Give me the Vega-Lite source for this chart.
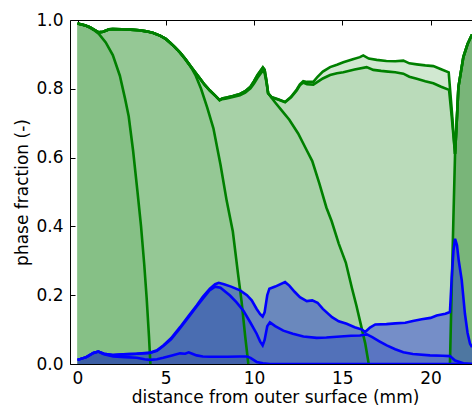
{
"$schema": "https://vega.github.io/schema/vega-lite/v6.json",
"autosize": "none",
"width": 402, "height": 344,
"padding": {"left": 70, "top": 20, "right": 0, "bottom": 51},
"background": "white",
"config": {"view": {"stroke": null}, "font": "DejaVu Sans",
 "axis": {"labelFont": "DejaVu Sans", "labelFontSize": 17, "titleFont": "DejaVu Sans", "titleFontSize": 17, "titleFontWeight": "normal", "labelColor": "black", "titleColor": "black", "domainColor": "black", "tickColor": "black", "grid": false, "tickSize": -5, "domainWidth": 1, "tickWidth": 1, "labelFlush": false}},
"datasets": {"d": [
{"s":"G1","x":0,"y":0.99},{"s":"G1","x":0.4,"y":0.985},{"s":"G1","x":0.7,"y":0.978},{"s":"G1","x":1.0,"y":0.968},{"s":"G1","x":1.2,"y":0.96},{"s":"G1","x":1.6,"y":0.935},{"s":"G1","x":2.0,"y":0.898},{"s":"G1","x":2.4,"y":0.838},{"s":"G1","x":2.7,"y":0.77},{"s":"G1","x":2.9,"y":0.72},{"s":"G1","x":3.15,"y":0.62},{"s":"G1","x":3.4,"y":0.5},{"s":"G1","x":3.6,"y":0.4},{"s":"G1","x":3.78,"y":0.29},{"s":"G1","x":3.92,"y":0.19},{"s":"G1","x":4.05,"y":0.08},{"s":"G1","x":4.13,"y":0},
{"s":"G2","x":0,"y":0.99},{"s":"G2","x":0.4,"y":0.985},{"s":"G2","x":0.7,"y":0.979},{"s":"G2","x":1.0,"y":0.97},{"s":"G2","x":1.2,"y":0.964},{"s":"G2","x":1.45,"y":0.966},{"s":"G2","x":1.8,"y":0.973},{"s":"G2","x":2.0,"y":0.974},{"s":"G2","x":2.5,"y":0.973},{"s":"G2","x":3.0,"y":0.972},{"s":"G2","x":3.5,"y":0.97},{"s":"G2","x":3.9,"y":0.967},{"s":"G2","x":4.3,"y":0.962},{"s":"G2","x":4.7,"y":0.954},{"s":"G2","x":5.0,"y":0.945},{"s":"G2","x":5.25,"y":0.934},{"s":"G2","x":5.5,"y":0.922},{"s":"G2","x":5.8,"y":0.906},{"s":"G2","x":6.1,"y":0.887},{"s":"G2","x":6.4,"y":0.866},{"s":"G2","x":6.7,"y":0.838},{"s":"G2","x":7.0,"y":0.8},{"s":"G2","x":7.35,"y":0.745},{"s":"G2","x":7.7,"y":0.685},{"s":"G2","x":8.1,"y":0.58},{"s":"G2","x":8.45,"y":0.475},{"s":"G2","x":8.8,"y":0.385},{"s":"G2","x":9.1,"y":0.26},{"s":"G2","x":9.3,"y":0.18},{"s":"G2","x":9.5,"y":0.08},{"s":"G2","x":9.68,"y":0},
{"s":"G3","x":0,"y":0.99},{"s":"G3","x":0.4,"y":0.985},{"s":"G3","x":0.7,"y":0.979},{"s":"G3","x":1.0,"y":0.97},{"s":"G3","x":1.2,"y":0.964},{"s":"G3","x":1.45,"y":0.966},{"s":"G3","x":1.8,"y":0.973},{"s":"G3","x":2.0,"y":0.974},{"s":"G3","x":2.5,"y":0.973},{"s":"G3","x":3.0,"y":0.972},{"s":"G3","x":3.5,"y":0.97},{"s":"G3","x":3.9,"y":0.967},{"s":"G3","x":4.3,"y":0.962},{"s":"G3","x":4.7,"y":0.954},{"s":"G3","x":5.0,"y":0.945},{"s":"G3","x":5.25,"y":0.934},{"s":"G3","x":5.5,"y":0.922},{"s":"G3","x":5.8,"y":0.906},{"s":"G3","x":6.1,"y":0.887},{"s":"G3","x":6.4,"y":0.866},{"s":"G3","x":6.7,"y":0.846},{"s":"G3","x":6.95,"y":0.829},{"s":"G3","x":7.2,"y":0.812},{"s":"G3","x":7.5,"y":0.795},{"s":"G3","x":7.8,"y":0.78},{"s":"G3","x":8.05,"y":0.767},{"s":"G3","x":8.2,"y":0.772},{"s":"G3","x":8.45,"y":0.775},{"s":"G3","x":8.8,"y":0.779},{"s":"G3","x":9.2,"y":0.785},{"s":"G3","x":9.5,"y":0.793},{"s":"G3","x":9.8,"y":0.806},{"s":"G3","x":10.0,"y":0.822},{"s":"G3","x":10.2,"y":0.84},{"s":"G3","x":10.4,"y":0.855},{"s":"G3","x":10.5,"y":0.862},{"s":"G3","x":10.6,"y":0.855},{"s":"G3","x":10.7,"y":0.825},{"s":"G3","x":10.8,"y":0.787},{"s":"G3","x":11.2,"y":0.76},{"s":"G3","x":11.6,"y":0.735},{"s":"G3","x":12.0,"y":0.71},{"s":"G3","x":12.5,"y":0.67},{"s":"G3","x":13.0,"y":0.62},{"s":"G3","x":13.3,"y":0.59},{"s":"G3","x":13.7,"y":0.525},{"s":"G3","x":14.1,"y":0.455},{"s":"G3","x":14.4,"y":0.415},{"s":"G3","x":14.8,"y":0.35},{"s":"G3","x":15.2,"y":0.295},{"s":"G3","x":15.55,"y":0.22},{"s":"G3","x":15.8,"y":0.17},{"s":"G3","x":16.0,"y":0.126},{"s":"G3","x":16.3,"y":0.06},{"s":"G3","x":16.5,"y":0},
{"s":"G4","x":0,"y":0.99},{"s":"G4","x":0.4,"y":0.985},{"s":"G4","x":0.7,"y":0.979},{"s":"G4","x":1.0,"y":0.97},{"s":"G4","x":1.2,"y":0.964},{"s":"G4","x":1.45,"y":0.966},{"s":"G4","x":1.8,"y":0.973},{"s":"G4","x":2.0,"y":0.974},{"s":"G4","x":2.5,"y":0.973},{"s":"G4","x":3.0,"y":0.972},{"s":"G4","x":3.5,"y":0.97},{"s":"G4","x":3.9,"y":0.967},{"s":"G4","x":4.3,"y":0.962},{"s":"G4","x":4.7,"y":0.954},{"s":"G4","x":5.0,"y":0.945},{"s":"G4","x":5.25,"y":0.934},{"s":"G4","x":5.5,"y":0.922},{"s":"G4","x":5.8,"y":0.906},{"s":"G4","x":6.1,"y":0.887},{"s":"G4","x":6.4,"y":0.866},{"s":"G4","x":6.7,"y":0.846},{"s":"G4","x":6.95,"y":0.829},{"s":"G4","x":7.2,"y":0.812},{"s":"G4","x":7.5,"y":0.795},{"s":"G4","x":7.8,"y":0.78},{"s":"G4","x":8.05,"y":0.767},{"s":"G4","x":8.2,"y":0.77},{"s":"G4","x":8.45,"y":0.772},{"s":"G4","x":8.8,"y":0.776},{"s":"G4","x":9.2,"y":0.781},{"s":"G4","x":9.5,"y":0.789},{"s":"G4","x":9.8,"y":0.801},{"s":"G4","x":10.0,"y":0.815},{"s":"G4","x":10.2,"y":0.832},{"s":"G4","x":10.4,"y":0.846},{"s":"G4","x":10.5,"y":0.852},{"s":"G4","x":10.6,"y":0.846},{"s":"G4","x":10.7,"y":0.82},{"s":"G4","x":10.8,"y":0.787},{"s":"G4","x":11.0,"y":0.775},{"s":"G4","x":11.4,"y":0.768},{"s":"G4","x":11.76,"y":0.761},{"s":"G4","x":12.1,"y":0.775},{"s":"G4","x":12.42,"y":0.795},{"s":"G4","x":12.6,"y":0.81},{"s":"G4","x":12.79,"y":0.818},{"s":"G4","x":13.0,"y":0.813},{"s":"G4","x":13.36,"y":0.812},{"s":"G4","x":13.6,"y":0.82},{"s":"G4","x":13.9,"y":0.83},{"s":"G4","x":14.31,"y":0.84},{"s":"G4","x":14.7,"y":0.845},{"s":"G4","x":15.06,"y":0.848},{"s":"G4","x":15.7,"y":0.856},{"s":"G4","x":16.38,"y":0.863},{"s":"G4","x":16.76,"y":0.855},{"s":"G4","x":17.2,"y":0.852},{"s":"G4","x":17.6,"y":0.85},{"s":"G4","x":18.0,"y":0.848},{"s":"G4","x":18.46,"y":0.844},{"s":"G4","x":18.8,"y":0.835},{"s":"G4","x":19.22,"y":0.829},{"s":"G4","x":19.7,"y":0.822},{"s":"G4","x":20.16,"y":0.816},{"s":"G4","x":20.6,"y":0.806},{"s":"G4","x":21.05,"y":0.797},{"s":"G4","x":21.2,"y":0.72},{"s":"G4","x":21.39,"y":0.611},{"s":"G4","x":21.5,"y":0.72},{"s":"G4","x":21.58,"y":0.805},{"s":"G4","x":21.86,"y":0.892},{"s":"G4","x":22.1,"y":0.93},{"s":"G4","x":22.35,"y":0.958},
{"s":"G5","x":0,"y":0.99},{"s":"G5","x":0.4,"y":0.985},{"s":"G5","x":0.7,"y":0.979},{"s":"G5","x":1.0,"y":0.97},{"s":"G5","x":1.2,"y":0.964},{"s":"G5","x":1.45,"y":0.966},{"s":"G5","x":1.8,"y":0.973},{"s":"G5","x":2.0,"y":0.974},{"s":"G5","x":2.5,"y":0.973},{"s":"G5","x":3.0,"y":0.972},{"s":"G5","x":3.5,"y":0.97},{"s":"G5","x":3.9,"y":0.967},{"s":"G5","x":4.3,"y":0.962},{"s":"G5","x":4.7,"y":0.954},{"s":"G5","x":5.0,"y":0.945},{"s":"G5","x":5.25,"y":0.934},{"s":"G5","x":5.5,"y":0.922},{"s":"G5","x":5.8,"y":0.906},{"s":"G5","x":6.1,"y":0.887},{"s":"G5","x":6.4,"y":0.866},{"s":"G5","x":6.7,"y":0.846},{"s":"G5","x":6.95,"y":0.829},{"s":"G5","x":7.2,"y":0.812},{"s":"G5","x":7.5,"y":0.795},{"s":"G5","x":7.8,"y":0.78},{"s":"G5","x":8.05,"y":0.767},{"s":"G5","x":8.2,"y":0.772},{"s":"G5","x":8.45,"y":0.775},{"s":"G5","x":8.8,"y":0.779},{"s":"G5","x":9.2,"y":0.785},{"s":"G5","x":9.5,"y":0.793},{"s":"G5","x":9.8,"y":0.806},{"s":"G5","x":10.0,"y":0.822},{"s":"G5","x":10.2,"y":0.84},{"s":"G5","x":10.4,"y":0.855},{"s":"G5","x":10.5,"y":0.862},{"s":"G5","x":10.6,"y":0.855},{"s":"G5","x":10.7,"y":0.825},{"s":"G5","x":10.8,"y":0.787},{"s":"G5","x":11.0,"y":0.776},{"s":"G5","x":11.4,"y":0.769},{"s":"G5","x":11.76,"y":0.762},{"s":"G5","x":12.1,"y":0.777},{"s":"G5","x":12.42,"y":0.798},{"s":"G5","x":12.6,"y":0.813},{"s":"G5","x":12.79,"y":0.822},{"s":"G5","x":13.0,"y":0.82},{"s":"G5","x":13.36,"y":0.82},{"s":"G5","x":13.6,"y":0.835},{"s":"G5","x":13.9,"y":0.85},{"s":"G5","x":14.31,"y":0.863},{"s":"G5","x":14.7,"y":0.87},{"s":"G5","x":15.06,"y":0.877},{"s":"G5","x":15.6,"y":0.886},{"s":"G5","x":16.0,"y":0.892},{"s":"G5","x":16.19,"y":0.897},{"s":"G5","x":16.5,"y":0.888},{"s":"G5","x":16.95,"y":0.884},{"s":"G5","x":17.5,"y":0.881},{"s":"G5","x":18.0,"y":0.88},{"s":"G5","x":18.46,"y":0.882},{"s":"G5","x":18.8,"y":0.874},{"s":"G5","x":19.22,"y":0.871},{"s":"G5","x":19.7,"y":0.868},{"s":"G5","x":20.16,"y":0.866},{"s":"G5","x":20.6,"y":0.857},{"s":"G5","x":21.03,"y":0.848},{"s":"G5","x":21.2,"y":0.74},{"s":"G5","x":21.39,"y":0.611},{"s":"G5","x":21.5,"y":0.72},{"s":"G5","x":21.58,"y":0.805},{"s":"G5","x":21.86,"y":0.892},{"s":"G5","x":22.1,"y":0.93},{"s":"G5","x":22.35,"y":0.958},
{"s":"G6","x":21.1,"y":0},{"s":"G6","x":21.2,"y":0.22},{"s":"G6","x":21.3,"y":0.43},{"s":"G6","x":21.39,"y":0.611},{"s":"G6","x":21.5,"y":0.72},{"s":"G6","x":21.58,"y":0.805},{"s":"G6","x":21.86,"y":0.892},{"s":"G6","x":22.1,"y":0.93},{"s":"G6","x":22.35,"y":0.958},
{"s":"B3","x":0,"y":0.012},{"s":"B3","x":0.5,"y":0.02},{"s":"B3","x":0.9,"y":0.032},{"s":"B3","x":1.18,"y":0.036},{"s":"B3","x":1.5,"y":0.03},{"s":"B3","x":2.0,"y":0.026},{"s":"B3","x":2.6,"y":0.028},{"s":"B3","x":3.35,"y":0.03},{"s":"B3","x":4.1,"y":0.033},{"s":"B3","x":4.5,"y":0.04},{"s":"B3","x":4.86,"y":0.054},{"s":"B3","x":5.3,"y":0.075},{"s":"B3","x":5.81,"y":0.107},{"s":"B3","x":6.3,"y":0.14},{"s":"B3","x":6.75,"y":0.17},{"s":"B3","x":7.1,"y":0.195},{"s":"B3","x":7.5,"y":0.219},{"s":"B3","x":7.8,"y":0.232},{"s":"B3","x":8.0,"y":0.236},{"s":"B3","x":8.3,"y":0.232},{"s":"B3","x":8.7,"y":0.225},{"s":"B3","x":9.21,"y":0.214},{"s":"B3","x":9.6,"y":0.2},{"s":"B3","x":9.87,"y":0.185},{"s":"B3","x":10.15,"y":0.16},{"s":"B3","x":10.35,"y":0.145},{"s":"B3","x":10.49,"y":0.138},{"s":"B3","x":10.6,"y":0.15},{"s":"B3","x":10.75,"y":0.2},{"s":"B3","x":10.87,"y":0.219},{"s":"B3","x":11.2,"y":0.225},{"s":"B3","x":11.76,"y":0.238},{"s":"B3","x":12.0,"y":0.228},{"s":"B3","x":12.3,"y":0.21},{"s":"B3","x":12.6,"y":0.194},{"s":"B3","x":12.99,"y":0.183},{"s":"B3","x":13.3,"y":0.185},{"s":"B3","x":13.6,"y":0.178},{"s":"B3","x":13.9,"y":0.16},{"s":"B3","x":14.42,"y":0.136},{"s":"B3","x":14.8,"y":0.124},{"s":"B3","x":15.25,"y":0.117},{"s":"B3","x":15.7,"y":0.107},{"s":"B3","x":16.12,"y":0.1},{"s":"B3","x":16.3,"y":0.093},{"s":"B3","x":16.57,"y":0.106},{"s":"B3","x":16.87,"y":0.115},{"s":"B3","x":17.5,"y":0.116},{"s":"B3","x":18.0,"y":0.118},{"s":"B3","x":18.57,"y":0.12},{"s":"B3","x":19.0,"y":0.125},{"s":"B3","x":19.5,"y":0.13},{"s":"B3","x":20.0,"y":0.134},{"s":"B3","x":20.35,"y":0.141},{"s":"B3","x":20.84,"y":0.146},{"s":"B3","x":21.1,"y":0.151},{"s":"B3","x":21.2,"y":0.25},{"s":"B3","x":21.3,"y":0.33},{"s":"B3","x":21.39,"y":0.364},{"s":"B3","x":21.5,"y":0.345},{"s":"B3","x":21.6,"y":0.3},{"s":"B3","x":21.77,"y":0.243},{"s":"B3","x":21.95,"y":0.146},{"s":"B3","x":22.1,"y":0.09},{"s":"B3","x":22.24,"y":0.059},{"s":"B3","x":22.35,"y":0.049},
{"s":"B2","x":0,"y":0.012},{"s":"B2","x":0.5,"y":0.02},{"s":"B2","x":0.9,"y":0.032},{"s":"B2","x":1.18,"y":0.036},{"s":"B2","x":1.5,"y":0.03},{"s":"B2","x":2.0,"y":0.026},{"s":"B2","x":2.6,"y":0.028},{"s":"B2","x":3.35,"y":0.03},{"s":"B2","x":4.1,"y":0.032},{"s":"B2","x":4.5,"y":0.038},{"s":"B2","x":4.86,"y":0.052},{"s":"B2","x":5.3,"y":0.072},{"s":"B2","x":5.81,"y":0.104},{"s":"B2","x":6.3,"y":0.137},{"s":"B2","x":6.75,"y":0.167},{"s":"B2","x":7.1,"y":0.19},{"s":"B2","x":7.5,"y":0.215},{"s":"B2","x":7.8,"y":0.225},{"s":"B2","x":8.1,"y":0.222},{"s":"B2","x":8.64,"y":0.199},{"s":"B2","x":9.0,"y":0.18},{"s":"B2","x":9.4,"y":0.155},{"s":"B2","x":9.8,"y":0.12},{"s":"B2","x":10.15,"y":0.088},{"s":"B2","x":10.35,"y":0.065},{"s":"B2","x":10.49,"y":0.054},{"s":"B2","x":10.6,"y":0.07},{"s":"B2","x":10.75,"y":0.11},{"s":"B2","x":10.9,"y":0.121},{"s":"B2","x":11.2,"y":0.11},{"s":"B2","x":11.66,"y":0.097},{"s":"B2","x":12.2,"y":0.088},{"s":"B2","x":12.8,"y":0.08},{"s":"B2","x":13.55,"y":0.076},{"s":"B2","x":14.1,"y":0.077},{"s":"B2","x":14.69,"y":0.079},{"s":"B2","x":15.5,"y":0.082},{"s":"B2","x":16.0,"y":0.083},{"s":"B2","x":16.39,"y":0.086},{"s":"B2","x":16.7,"y":0.078},{"s":"B2","x":17.1,"y":0.066},{"s":"B2","x":17.52,"y":0.054},{"s":"B2","x":18.0,"y":0.043},{"s":"B2","x":18.46,"y":0.034},{"s":"B2","x":19.0,"y":0.029},{"s":"B2","x":19.97,"y":0.025},{"s":"B2","x":20.7,"y":0.024},{"s":"B2","x":21.1,"y":0.023},{"s":"B2","x":21.39,"y":0.01},{"s":"B2","x":21.86,"y":0.002},{"s":"B2","x":22.35,"y":0},
{"s":"B1","x":0,"y":0.012},{"s":"B1","x":0.5,"y":0.02},{"s":"B1","x":0.9,"y":0.032},{"s":"B1","x":1.18,"y":0.036},{"s":"B1","x":1.5,"y":0.028},{"s":"B1","x":2.03,"y":0.022},{"s":"B1","x":2.7,"y":0.02},{"s":"B1","x":3.35,"y":0.018},{"s":"B1","x":3.8,"y":0.014},{"s":"B1","x":4.1,"y":0.012},{"s":"B1","x":4.5,"y":0.014},{"s":"B1","x":4.86,"y":0.018},{"s":"B1","x":5.3,"y":0.024},{"s":"B1","x":5.81,"y":0.031},{"s":"B1","x":6.1,"y":0.03},{"s":"B1","x":6.3,"y":0.034},{"s":"B1","x":6.5,"y":0.03},{"s":"B1","x":6.75,"y":0.025},{"s":"B1","x":7.1,"y":0.022},{"s":"B1","x":7.5,"y":0.021},{"s":"B1","x":8.5,"y":0.021},{"s":"B1","x":9.2,"y":0.022},{"s":"B1","x":9.6,"y":0.022},{"s":"B1","x":9.8,"y":0.018},{"s":"B1","x":10.15,"y":0.006},{"s":"B1","x":10.5,"y":0.002},{"s":"B1","x":10.9,"y":0},{"s":"B1","x":22.35,"y":0}
]},
"data": {"name": "d"},
"encoding": {
 "x": {"field": "x", "type": "quantitative", "scale": {"domain": [-0.425, 22.35], "nice": false, "zero": false}, "axis": null},
 "y": {"field": "y", "type": "quantitative", "scale": {"domain": [0, 1], "nice": false, "zero": false}, "axis": {"values": [0, 0.2, 0.4, 0.6, 0.8, 1.0], "format": ".1f", "labelPadding": 12, "title": "phase fraction (-)", "titlePadding": 4}}
},
"resolve": {"axis": {"x": "independent"}},
"layer": [
 {"transform": [{"filter": "datum.s == 'G5'"}], "mark": {"type": "area", "color": "#d1e8d1", "clip": true},
  "encoding": {
   "x": {"field": "x", "type": "quantitative", "scale": {"domain": [-0.425, 22.35], "nice": false, "zero": false}, "axis": {"orient": "bottom", "values": [0, 5, 10, 15, 20], "format": "d", "labelPadding": 11, "title": "distance from outer surface (mm)", "titlePadding": 3, "titleX": 205}}
  }},
 {"transform": [{"filter": "datum.s == 'G4'"}], "mark": {"type": "area", "color": "#badbba", "clip": true},
  "encoding": {
   "x": {"field": "x", "type": "quantitative", "scale": {"domain": [-0.425, 22.35], "nice": false, "zero": false}, "axis": {"orient": "top", "values": [0, 5, 10, 15, 20], "labels": false, "title": null}}
  }},
 {"transform": [{"filter": "datum.s == 'G3'"}], "mark": {"type": "area", "color": "#a7d1a7", "clip": true}},
 {"transform": [{"filter": "datum.s == 'G2'"}], "mark": {"type": "area", "color": "#95c895", "clip": true}},
 {"transform": [{"filter": "datum.s == 'G1'"}], "mark": {"type": "area", "color": "#86c086", "clip": true}},
 {"transform": [{"filter": "datum.s == 'G6'"}], "mark": {"type": "area", "color": "#79b579", "clip": true}},
 {"transform": [{"filter": "datum.s == 'B3'"}], "mark": {"type": "area", "color": "#0f1bde", "opacity": 0.4, "clip": true}},
 {"transform": [{"filter": "datum.s == 'B2'"}], "mark": {"type": "area", "color": "#0a2cb1", "opacity": 0.25, "clip": true}},
 {"transform": [{"filter": "datum.s == 'B1'"}], "mark": {"type": "area", "color": "#14288c", "opacity": 0.15, "clip": true}},
 {"transform": [{"filter": "indexof(datum.s, 'G') == 0"}], "mark": {"type": "line", "color": "#008000", "strokeWidth": 2.6, "clip": true},
  "encoding": {"detail": {"field": "s", "type": "nominal"}}},
 {"transform": [{"filter": "indexof(datum.s, 'B') == 0"}], "mark": {"type": "line", "color": "#0000ff", "strokeWidth": 2.6, "clip": true},
  "encoding": {"detail": {"field": "s", "type": "nominal"}}}
]
}
